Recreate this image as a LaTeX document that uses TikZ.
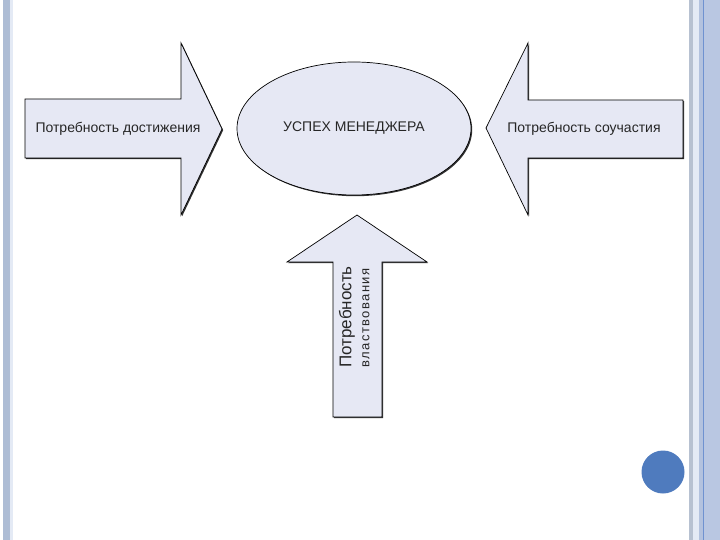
\documentclass[tikz,border=0pt]{standalone}
\usepackage{fontspec}
\setmainfont{Liberation Sans}
\usetikzlibrary{shapes.geometric,shadows}
\definecolor{shapefill}{HTML}{E6E8F4}
\definecolor{rimleft}{HTML}{AEBDD5}
\definecolor{rimlight}{HTML}{E4EAF5}
\definecolor{rimgray}{HTML}{B7C1D1}
\definecolor{rimmid}{HTML}{B3C2DE}
\definecolor{rimline}{HTML}{6F92D0}
\definecolor{rimright}{HTML}{B9C7E2}
\definecolor{bulletblue}{HTML}{4F7BBE}
\begin{document}
\begin{tikzpicture}[x=1pt,y=-1pt,
  block/.style={draw=black,line width=0.7pt,fill=shapefill,
    drop shadow={shadow xshift=1.2pt,shadow yshift=-1.2pt,opacity=1,fill=black!80}},
  lbl/.style={font=\fontsize{14}{16}\selectfont,text=black!85}]
\useasboundingbox (0,0) rectangle (720,540);
% slide rims
\fill[rimleft] (3,0) rectangle (10,540);
\fill[rimlight] (10,0) rectangle (13,540);
\fill[rimgray] (689,0) rectangle (693,540);
\fill[rimlight] (693,0) rectangle (699,540);
\fill[rimmid] (699,0) rectangle (703,540);
\fill[rimline] (703,0) rectangle (704,540);
\fill[rimright] (704,0) rectangle (720,540);
\fill[bulletblue] (663,472) circle (21.5);
% arrows
\draw[block] (25,99) -- (181,99) -- (181,43) -- (222,129) -- (181,215) -- (181,158) -- (25,158) -- cycle;
\draw[block] (683,100) -- (528,100) -- (528,43) -- (486,128) -- (528,215) -- (528,158) -- (683,158) -- cycle;
\draw[block] (333,417) -- (333,262) -- (287,262) -- (357,215) -- (427,262) -- (382,262) -- (382,417) -- cycle;
\node[block,ellipse,minimum width=234pt,minimum height=133pt,inner sep=0pt] (success) at (354,128.5) {};
% labels
\node[lbl] (achieve) at (118,129) {Потребность достижения};
\node[lbl] (affil) at (584,129) {Потребность соучастия};
\node[lbl] at (success.center) {УСПЕХ МЕНЕДЖЕРА};
\node[lbl,rotate=90,inner sep=0pt] (power) at (347,317)
  {\fontsize{17}{18}\selectfont Потребность};
\node[lbl,rotate=90,inner sep=0pt] (power2) at (366,318)
  {\fontsize{13}{15}\selectfont\addfontfeature{LetterSpace=11}властвования};
\end{tikzpicture}
\end{document}
